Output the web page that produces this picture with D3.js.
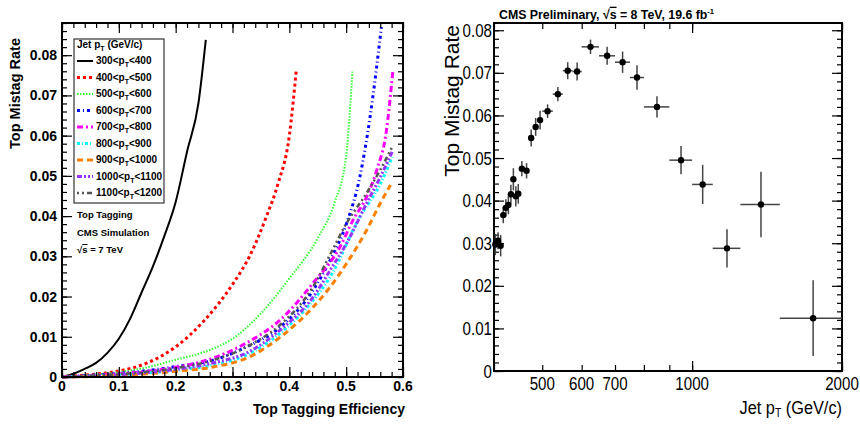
<!DOCTYPE html>
<html>
<head>
<meta charset="utf-8">
<script src="https://cdn.jsdelivr.net/npm/d3@7"></script>
<style>
  body { margin: 0; background: #fff; }
  svg text { font-family: "Liberation Sans", Arial, sans-serif; }
  .left text { font-weight: bold; }
</style>
</head>
<body>
<svg id="chart" width="860" height="425"></svg>
<script>
// ---------- left panel: mistag rate vs tagging efficiency, one curve per jet pT bin
const binLow  = [300, 400, 500, 600, 700, 800, 900, 1000, 1100];
const binHigh = [400, 500, 600, 700, 800, 900, 1000, 1100, 1200];

const eff300  = [0, 0.02, 0.04, 0.06, 0.08, 0.10, 0.12, 0.14, 0.16, 0.18, 0.20, 0.22, 0.24, 0.253];
const mis300  = [0, 0.0008, 0.002, 0.0035, 0.006, 0.0095, 0.0145, 0.021, 0.0275, 0.035, 0.0435, 0.056, 0.068, 0.0838];
const eff400  = [0, 0.05, 0.1, 0.15, 0.2, 0.25, 0.3, 0.33, 0.36, 0.38, 0.40, 0.412];
const mis400  = [0, 0.0006, 0.0015, 0.0035, 0.0075, 0.014, 0.023, 0.030, 0.040, 0.048, 0.060, 0.0759];
const eff500  = [0, 0.05, 0.1, 0.15, 0.2, 0.25, 0.3, 0.35, 0.4, 0.45, 0.48, 0.5, 0.511];
const mis500  = [0, 0.0005, 0.0012, 0.0024, 0.0043, 0.0062, 0.0095, 0.0158, 0.0245, 0.0345, 0.0435, 0.055, 0.0759];
const eff600  = [0, 0.05, 0.1, 0.15, 0.2, 0.266, 0.325, 0.384, 0.442, 0.472, 0.501, 0.524, 0.542, 0.562];
const mis600  = [0, 0.0004, 0.0009, 0.0016, 0.0026, 0.0042, 0.0075, 0.0124, 0.0216, 0.0291, 0.0383, 0.0497, 0.0646, 0.087];
const eff700  = [0, 0.05, 0.1, 0.15, 0.2, 0.266, 0.325, 0.384, 0.442, 0.489, 0.512, 0.536, 0.554, 0.571, 0.582];
const mis700  = [0, 0.0003, 0.0008, 0.0014, 0.0024, 0.0047, 0.0085, 0.0142, 0.0234, 0.0323, 0.039, 0.0448, 0.0515, 0.0614, 0.0759];
const eff800  = [0, 0.05, 0.1, 0.15, 0.2, 0.266, 0.325, 0.384, 0.442, 0.472, 0.524, 0.560, 0.581];
const mis800  = [0, 0.0002, 0.0005, 0.001, 0.0017, 0.003, 0.0055, 0.0109, 0.0191, 0.0249, 0.0398, 0.048, 0.0547];
const eff900  = [0, 0.05, 0.1, 0.15, 0.2, 0.266, 0.325, 0.384, 0.442, 0.472, 0.501, 0.536, 0.560, 0.578];
const mis900  = [0, 0.0001, 0.0004, 0.0008, 0.0014, 0.0025, 0.0047, 0.0099, 0.0174, 0.0224, 0.0283, 0.0365, 0.0432, 0.0477];
const eff1000 = [0, 0.05, 0.1, 0.15, 0.2, 0.266, 0.325, 0.384, 0.442, 0.472, 0.501, 0.536, 0.560, 0.581];
const mis1000 = [0, 0.0002, 0.0006, 0.0011, 0.0019, 0.0035, 0.006, 0.0117, 0.0199, 0.0266, 0.0333, 0.0432, 0.0497, 0.056];
const eff1100 = [0, 0.05, 0.1, 0.15, 0.2, 0.266, 0.325, 0.384, 0.442, 0.472, 0.501, 0.536, 0.560, 0.581];
const mis1100 = [0, 0.0003, 0.0007, 0.0013, 0.0022, 0.0042, 0.0075, 0.013, 0.0225, 0.0305, 0.0383, 0.0457, 0.0515, 0.0572];

const effCurves = [eff300, eff400, eff500, eff600, eff700, eff800, eff900, eff1000, eff1100];
const misCurves = [mis300, mis400, mis500, mis600, mis700, mis800, mis900, mis1000, mis1100];

// ---------- right panel: mistag rate vs jet pT (data)
const ptLow  = [400, 405, 410, 415, 420, 425, 430, 435, 440, 445, 450, 460, 470, 480, 490,
                500, 525, 550, 575, 600, 650, 700, 750, 800, 900, 1000, 1100, 1250, 1500];
const ptHigh = [405, 410, 415, 420, 425, 430, 435, 440, 445, 450, 460, 470, 480, 490, 500,
                525, 550, 575, 600, 650, 700, 750, 800, 900, 1000, 1100, 1250, 1500, 2000];
const rate   = [0.0297, 0.0306, 0.0294, 0.0366, 0.0383, 0.039, 0.0415, 0.045, 0.041, 0.0416,
                0.0475, 0.047, 0.0547, 0.0573, 0.0589, 0.061, 0.065, 0.0705, 0.0703, 0.0761,
                0.074, 0.0725, 0.0689, 0.062, 0.0495, 0.0438, 0.0288, 0.0391, 0.0124];
const rateErr = [0.0025, 0.002, 0.0025, 0.0019, 0.002, 0.0022, 0.0022, 0.0026, 0.0024, 0.0023,
                 0.0018, 0.0018, 0.002, 0.0021, 0.0022, 0.0016, 0.0017, 0.002, 0.0021, 0.0017,
                 0.0021, 0.0025, 0.0029, 0.0025, 0.0033, 0.0046, 0.0045, 0.0077, 0.0089];

// tick values
const leftXMajor = [0, 0.1, 0.2, 0.3, 0.4, 0.5, 0.6];
const leftYMajor = [0, 0.01, 0.02, 0.03, 0.04, 0.05, 0.06, 0.07, 0.08];
const rightYMajor = [0, 0.01, 0.02, 0.03, 0.04, 0.05, 0.06, 0.07, 0.08];
const rightXTicks = [400, 500, 600, 700, 800, 900, 1000, 2000];
const rightXLabels = [500, 600, 700, 1000, 2000];

const colors = ["#000000", "#ff0000", "#33ff33", "#0000ff", "#ff00ff", "#00ffff", "#ff8000", "#9933ff", "#555555"];
const dashes = [null, "3,3", "1.5,1.5", "3,3,1,3", "6,3,2,3", "3,2,1,2", "6,4", "5,2,2,2,2,2", "2,3,2,3,5,3"];
const widths = [2, 3, 2, 3, 3, 3, 3, 3, 2.5];

const svg = d3.select("#chart");

// ROOT-style frame: ticks pointing inwards on all four sides
function drawFrame(g, x, y, xTicks, xMinor, yTicks, yMinor, xLen, yLen) {
    const [x0, x1] = x.range();
    const [y0, y1] = y.range();
    const axes = [
        [d3.axisBottom(x), `translate(0,${y0})`, xTicks, xMinor, xLen],
        [d3.axisTop(x), `translate(0,${y1})`, xTicks, xMinor, xLen],
        [d3.axisLeft(y), `translate(${x0},0)`, yTicks, yMinor, yLen],
        [d3.axisRight(y), `translate(${x1},0)`, yTicks, yMinor, yLen]
    ];
    axes.forEach(([ax, tr, major, minor, len]) => {
        g.append("g").attr("transform", tr)
            .call(ax.tickValues(major).tickSize(-len[0]).tickSizeOuter(0).tickFormat(""));
        g.append("g").attr("transform", tr)
            .call(ax.tickValues(minor).tickSize(-len[1]).tickSizeOuter(0).tickFormat(""));
    });
    g.selectAll(".domain").remove();
    g.selectAll(".tick line").attr("stroke", "#000").attr("stroke-width", 1.2);
    g.append("rect")
        .attr("x", x0).attr("y", y1)
        .attr("width", x1 - x0).attr("height", y0 - y1)
        .attr("fill", "none").attr("stroke", "#000").attr("stroke-width", 2);
}

// text with a subscript T after the "p"
function ptText(sel, before, after, subSize) {
    sel.append("tspan").text(before);
    sel.append("tspan").attr("dy", 3).attr("font-size", subSize).text("T");
    sel.append("tspan").attr("dy", -3).text(after);
}

// ---------------- left panel ----------------
const gL = svg.append("g").attr("class", "left");
const xL = d3.scaleLinear().domain([0, 0.6]).range([62, 403]);
const yL = d3.scaleLinear().domain([0, 0.088]).range([377, 23]);

const line = d3.line().curve(d3.curveMonotoneX);
effCurves.forEach((eff, i) => {
    gL.append("path")
        .attr("d", line(eff.map((e, k) => [xL(e), yL(misCurves[i][k])])))
        .attr("fill", "none")
        .attr("stroke", colors[i])
        .attr("stroke-width", widths[i])
        .attr("stroke-dasharray", dashes[i]);
});

drawFrame(gL, xL, yL, leftXMajor, d3.range(0, 0.601, 0.02),
    leftYMajor, d3.range(0, 0.0881, 0.002), [10, 5], [10, 5]);

gL.selectAll(".xlab").data(leftXMajor).join("text")
    .attr("x", d => xL(d)).attr("y", 391)
    .attr("text-anchor", "middle").attr("font-size", 14)
    .text(d => d === 0 ? "0" : d3.format(".1f")(d));
gL.selectAll(".ylab").data(leftYMajor).join("text")
    .attr("x", 57).attr("y", d => yL(d) + 5)
    .attr("text-anchor", "end").attr("font-size", 14)
    .text(d => d === 0 ? "0" : d3.format(".2f")(d));

gL.append("text").attr("x", 405).attr("y", 414)
    .attr("text-anchor", "end").attr("font-size", 14)
    .text("Top Tagging Efficiency");
gL.append("text").attr("transform", "translate(20,38) rotate(-90)")
    .attr("text-anchor", "end").attr("font-size", 14.5)
    .text("Top Mistag Rate");

// legend
gL.append("rect").attr("x", 74).attr("y", 39).attr("width", 90).attr("height", 164)
    .attr("fill", "#fff").attr("stroke", "#333").attr("stroke-width", 1.2);
ptText(gL.append("text").attr("x", 77).attr("y", 48).attr("font-size", 10), "Jet p", " (GeV/c)", 7);
binLow.forEach((lo, i) => {
    const cy = 61 + i * 16.5;
    gL.append("line").attr("x1", 77).attr("x2", 93).attr("y1", cy).attr("y2", cy)
        .attr("stroke", colors[i]).attr("stroke-width", widths[i])
        .attr("stroke-dasharray", dashes[i]);
    ptText(gL.append("text").attr("x", 96).attr("y", cy + 3).attr("font-size", 10),
        lo + "<p", "<" + binHigh[i], 7);
});

gL.append("text").attr("x", 77).attr("y", 218).attr("font-size", 9.5).text("Top Tagging");
gL.append("text").attr("x", 77).attr("y", 236).attr("font-size", 9.5).text("CMS Simulation");
const sq7 = gL.append("text").attr("x", 77).attr("y", 253).attr("font-size", 9.5);
sq7.append("tspan").text("\u221A");
sq7.append("tspan").style("text-decoration", "overline").text("s");
sq7.append("tspan").text(" = 7 TeV");

// ---------------- right panel ----------------
const gR = svg.append("g").attr("class", "right");
const xR = d3.scaleLog().domain([400, 2000]).range([494, 842]);
const yR = d3.scaleLinear().domain([0, 0.0817]).range([371, 23]);
const narrow = 0.84; // the original uses a condensed Helvetica

drawFrame(gR, xR, yR, [1000, 2000], rightXTicks,
    rightYMajor, d3.range(0, 0.0817, 0.002), [10, 6], [10, 5]);

// error bars and markers
const pts = ptLow.map((lo, i) => ({lo, hi: ptHigh[i], c: (lo + ptHigh[i]) / 2, v: rate[i], e: rateErr[i]}));
gR.selectAll(".ex").data(pts).join("line")
    .attr("x1", d => xR(d.lo)).attr("x2", d => xR(d.hi))
    .attr("y1", d => yR(d.v)).attr("y2", d => yR(d.v))
    .attr("stroke", "#444").attr("stroke-width", 1.5);
gR.selectAll(".ey").data(pts).join("line")
    .attr("x1", d => xR(d.c)).attr("x2", d => xR(d.c))
    .attr("y1", d => yR(d.v - d.e)).attr("y2", d => yR(d.v + d.e))
    .attr("stroke", "#444").attr("stroke-width", 1.5);
gR.selectAll(".pt").data(pts).join("circle")
    .attr("cx", d => xR(d.c)).attr("cy", d => yR(d.v)).attr("r", 3.2)
    .attr("fill", "#000");

gR.selectAll(".xlab").data(rightXLabels).join("text")
    .attr("transform", d => `translate(${xR(d)},390) scale(${narrow},1)`)
    .attr("text-anchor", "middle").attr("font-size", 18)
    .text(d => d);
gR.selectAll(".ylab").data(rightYMajor).join("text")
    .attr("transform", d => `translate(492,${yR(d) + 6.5}) scale(${narrow},1)`)
    .attr("text-anchor", "end").attr("font-size", 18)
    .text(d => d === 0 ? "0" : d3.format(".2f")(d));

const xt = gR.append("text").attr("transform", `translate(842,414) scale(0.86,1)`)
    .attr("text-anchor", "end").attr("font-size", 19);
ptText(xt, "Jet p", " (GeV/c)", 12);
gR.append("text").attr("transform", "translate(459,25) rotate(-90)")
    .attr("text-anchor", "end").attr("font-size", 21)
    .text("Top Mistag Rate");

const title = gR.append("text").attr("transform", "translate(499,19) scale(0.95,1)")
    .attr("font-size", 13).attr("font-weight", "bold");
title.append("tspan").text("CMS Preliminary, \u221A");
title.append("tspan").style("text-decoration", "overline").text("s");
title.append("tspan").text(" = 8 TeV, 19.6 fb");
title.append("tspan").attr("dy", -5).attr("font-size", 8).text("-1");
</script>
</body>
</html>
